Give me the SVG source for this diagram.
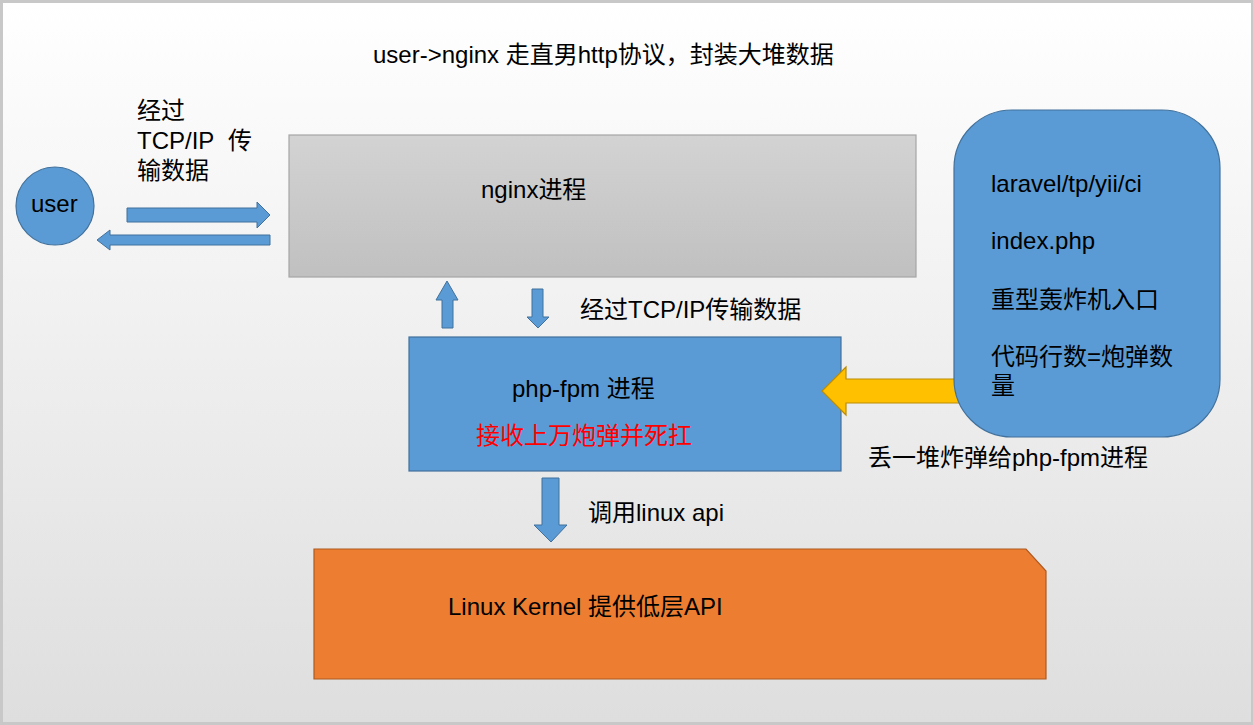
<svg xmlns="http://www.w3.org/2000/svg" width="1253" height="725" viewBox="0 0 1253 725">
<defs>
<linearGradient id="bg" x1="0" y1="0" x2="0" y2="1">
<stop offset="0" stop-color="#ffffff"/>
<stop offset="1" stop-color="#dedede"/>
</linearGradient>
<linearGradient id="ng" x1="0" y1="0" x2="0" y2="1">
<stop offset="0" stop-color="#d3d3d3"/>
<stop offset="1" stop-color="#c0c0c0"/>
</linearGradient>
<style>
text{font-family:"Liberation Sans","Noto Sans CJK SC",sans-serif;font-size:24px;fill:#000}
.blue{fill:#5b9bd5;stroke:#41719c;stroke-width:1.2}
.arr{fill:#5b9bd5;stroke:#41719c;stroke-width:1}
.yel{fill:#ffc000;stroke:#bc8c00;stroke-width:1.2}
.red{fill:#ff0000}
</style>
</defs>
<rect x="0" y="0" width="1253" height="725" fill="#c8c8c8"/>
<rect x="3" y="3" width="1248" height="719" fill="url(#bg)"/>

<text x="373" y="63">user-&gt;nginx 走直男http协议，封装大堆数据</text>

<g id="user">
<circle class="blue" cx="55" cy="206" r="39"/>
<text x="31" y="212">user</text>
</g>

<g id="nginx">
<rect x="289" y="135" width="627" height="142" fill="url(#ng)" stroke="#a6a6a6" stroke-width="1.2"/>
<text x="481" y="198">nginx进程</text>
</g>

<g id="phpfpm">
<rect class="blue" x="409" y="337" width="432" height="134"/>
<text x="512" y="397">php-fpm 进程</text>
<text class="red" x="476" y="444">接收上万炮弹并死扛</text>
</g>

<g id="connectors">
<polygon class="arr" points="127,208 257,208 257,202 270,215 257,228 257,222 127,222"/>
<polygon class="arr" points="270,235 110,235 110,230 97,240 110,250 110,245 270,245"/>
<polygon class="arr" points="442,328 442,300 436,300 447,281 458,300 453,300 453,328"/>
<polygon class="arr" points="532,289 543,289 543,317 549,317 538,328 527,317 532,317"/>
<polygon class="arr" points="542,478 559,478 559,525 567,525 551,542 534,525 542,525"/>
<polygon class="yel" points="970,379 846,379 846,367 822,391 846,415 846,403 970,403"/>
<text x="137" y="119">经过</text>
<text x="137" y="149">TCP/IP<tspan x="228">传</tspan></text>
<text x="137" y="179">输数据</text>
<text x="580" y="318">经过TCP/IP传输数据</text>
<text x="868" y="466">丢一堆炸弹给php-fpm进程</text>
<text x="588" y="521">调用linux api</text>
</g>

<g id="framework">
<rect class="blue" x="954" y="110" width="266" height="327" rx="58" ry="58"/>
<text x="991" y="192">laravel/tp/yii/ci</text>
<text x="991" y="249">index.php</text>
<text x="991" y="308">重型轰炸机入口</text>
<text x="991" y="365">代码行数=炮弹数</text>
<text x="991" y="394">量</text>
</g>

<g id="kernel">
<polygon points="314,549 1026,549 1046,571 1046,679 314,679" fill="#ed7d31" stroke="#ae5a21" stroke-width="1.2"/>
<text x="448" y="615">Linux Kernel 提供低层API</text>
</g>
</svg>
